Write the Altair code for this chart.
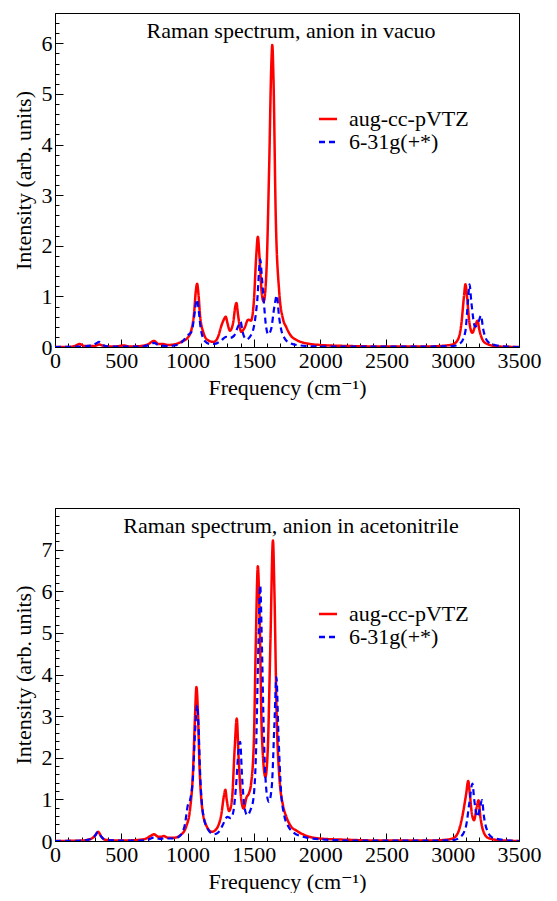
import altair as alt
import pandas as pd

FONT = "Liberation Serif, Times New Roman, Times, DejaVu Serif, serif"
SERIES = ["aug-cc-pVTZ", "6-31g(+*)"]
COLORS = ["#ff0000", "#0000ff"]
DASHES = [[1, 0], [6, 4]]

X_MAJOR = [0, 500, 1000, 1500, 2000, 2500, 3000, 3500]
X_MINOR = list(range(0, 3501, 100))

# ---------- Panel 1: anion in vacuo ----------
vac_red_f = [0, 100, 150, 187, 220, 300, 333, 370, 450, 520, 560, 650, 700, 747, 780, 810, 850,
             900, 950, 1000, 1030, 1050, 1062, 1072, 1082, 1095, 1120, 1150, 1197, 1230, 1255,
             1275, 1288, 1300, 1320, 1345, 1360, 1369, 1380, 1405, 1430, 1457, 1478, 1500, 1518,
             1530, 1542, 1560, 1574, 1595, 1615, 1632, 1639, 1648, 1665, 1691, 1720, 1743, 1780,
             1821, 1900, 2000, 2200, 2500, 2800, 2950, 3000, 3040, 3065, 3085, 3096, 3108, 3125,
             3148, 3170, 3187, 3200, 3230, 3270, 3350, 3500]
vac_red_i = [0.0, 0.0, 0.02, 0.06, 0.02, 0.02, 0.05, 0.02, 0.01, 0.03, 0.01, 0.02, 0.05, 0.12,
             0.06, 0.06, 0.04, 0.05, 0.1, 0.18, 0.35, 0.7, 1.1, 1.25, 1.05, 0.6, 0.28, 0.14, 0.1,
             0.2, 0.42, 0.55, 0.6, 0.48, 0.32, 0.5, 0.8, 0.87, 0.65, 0.3, 0.38, 0.54, 0.52, 0.9,
             1.8, 2.18, 1.8, 1.05, 0.9, 1.5, 3.5, 5.6, 5.97, 5.3, 2.6, 1.1, 0.55, 0.4, 0.22,
             0.14, 0.07, 0.04, 0.02, 0.01, 0.01, 0.03, 0.05, 0.15, 0.45, 1.0, 1.24, 1.0, 0.5,
             0.28, 0.42, 0.52, 0.35, 0.12, 0.05, 0.01, 0.0]
vac_blue_f = [0, 200, 280, 310, 333, 355, 400, 500, 650, 720, 747, 780, 850, 900, 950, 985, 1010,
              1030, 1050, 1062, 1072, 1085, 1100, 1130, 1170, 1200, 1250, 1290, 1320, 1350, 1380,
              1400, 1415, 1444, 1470, 1500, 1525, 1548, 1560, 1575, 1590, 1608, 1630, 1655, 1673,
              1690, 1710, 1730, 1770, 1850, 2000, 2800, 3000, 3060, 3095, 3115, 3127, 3140, 3169,
              3195, 3213, 3230, 3260, 3300, 3400, 3500]
vac_blue_i = [0.0, 0.01, 0.03, 0.07, 0.1, 0.05, 0.01, 0.01, 0.01, 0.05, 0.08, 0.04, 0.02, 0.03,
              0.08, 0.18, 0.25, 0.3, 0.6, 0.85, 0.94, 0.7, 0.35, 0.12, 0.06, 0.06, 0.12, 0.2, 0.18,
              0.22, 0.4, 0.5, 0.3, 0.15, 0.2, 0.4, 0.9, 1.73, 1.4, 0.9, 0.45, 0.25, 0.35, 0.8, 1.02,
              0.6, 0.3, 0.18, 0.08, 0.03, 0.01, 0.01, 0.02, 0.08, 0.3, 0.9, 1.24, 0.9, 0.4, 0.5,
              0.62, 0.35, 0.12, 0.05, 0.01, 0.0]
vac_y_major = [0, 1, 2, 3, 4, 5, 6]
vac_y_max = 6.6

# ---------- Panel 2: anion in acetonitrile ----------
acn_red_f = [0, 200, 270, 300, 325, 350, 380, 500, 600, 680, 720, 747, 780, 800, 820, 850, 900,
             950, 990, 1020, 1040, 1055, 1067, 1078, 1090, 1110, 1140, 1184, 1220, 1255, 1275,
             1285, 1295, 1314, 1335, 1355, 1371, 1385, 1405, 1423, 1445, 1462, 1480, 1500, 1515,
             1530, 1542, 1560, 1587, 1605, 1625, 1644, 1655, 1672, 1691, 1720, 1743, 1780, 1821,
             1900, 2000, 2200, 2500, 2800, 2950, 3000, 3040, 3070, 3100, 3117, 3130, 3145, 3161,
             3180, 3195, 3208, 3235, 3270, 3350, 3500]
acn_red_i = [0.0, 0.01, 0.05, 0.12, 0.22, 0.1, 0.03, 0.01, 0.02, 0.05, 0.12, 0.16, 0.1, 0.1,
             0.12, 0.08, 0.08, 0.15, 0.35, 0.8, 1.6, 2.9, 3.7, 3.1, 1.8, 0.8, 0.38, 0.22, 0.3,
             0.65, 1.1, 1.23, 1.0, 0.72, 1.0, 2.2, 2.94, 2.0, 1.0, 0.78, 1.05, 1.14, 1.4, 2.4,
             4.8, 6.6, 5.6, 2.6, 1.54, 2.2, 4.8, 7.22, 6.0, 3.0, 1.6, 0.85, 0.6, 0.35, 0.25,
             0.12, 0.06, 0.03, 0.01, 0.01, 0.03, 0.06, 0.2, 0.55, 1.1, 1.44, 1.1, 0.65, 0.5,
             0.8, 0.98, 0.6, 0.2, 0.07, 0.02, 0.0]
acn_blue_f = [0, 200, 270, 300, 325, 350, 380, 500, 650, 700, 747, 790, 820, 900, 950, 980, 1002,
              1020, 1040, 1058, 1072, 1082, 1095, 1115, 1150, 1197, 1230, 1260, 1300, 1325, 1345,
              1365, 1385, 1397, 1410, 1430, 1450, 1475, 1496, 1515, 1535, 1548, 1560, 1575, 1595,
              1613, 1635, 1655, 1670, 1685, 1705, 1730, 1760, 1800, 1850, 1900, 2000, 2300, 2800,
              3000, 3060, 3100, 3125, 3149, 3162, 3187, 3205, 3221, 3235, 3260, 3300, 3400, 3500]
acn_blue_i = [0.0, 0.01, 0.05, 0.12, 0.22, 0.1, 0.03, 0.01, 0.01, 0.03, 0.08, 0.05, 0.06, 0.06,
              0.15, 0.4, 0.86, 1.0, 1.5, 2.7, 3.26, 2.8, 1.6, 0.7, 0.3, 0.16, 0.2, 0.35, 0.58,
              0.55, 0.7, 1.3, 2.2, 2.38, 1.6, 0.8, 0.62, 0.75, 1.0, 2.0, 4.8, 6.14, 4.8, 2.6, 1.2,
              0.94, 1.3, 2.8, 3.94, 2.6, 1.2, 0.6, 0.35, 0.2, 0.12, 0.08, 0.04, 0.01, 0.01, 0.02,
              0.1, 0.35, 0.9, 1.38, 1.0, 0.58, 0.8, 0.98, 0.6, 0.25, 0.08, 0.02, 0.0]
acn_y_major = [0, 1, 2, 3, 4, 5, 6, 7]
acn_y_max = 8.0

PLOT_W = 464
FS = 22


def panel(title, red_f, red_i, blue_f, blue_i, y_major, y_max, height):
    red = pd.DataFrame({"freq": red_f, "intensity": red_i, "series": SERIES[0]})
    blue = pd.DataFrame({"freq": blue_f, "intensity": blue_i, "series": SERIES[1]})
    y_minor = [round(i * 0.2, 1) for i in range(int(round(y_max / 0.2)) + 1)]

    xs = alt.Scale(domain=[0, 3500], nice=False, zero=False)
    ys = alt.Scale(domain=[0, y_max], nice=False)
    legend = alt.Legend(
        title=None, orient="none", legendX=262, legendY=95, symbolType="stroke",
        symbolSize=324, symbolStrokeWidth=2.4, labelFont=FONT, labelFontSize=FS,
        labelColor="black", labelOffset=10, rowPadding=1, padding=0,
    )
    color = alt.Color("series:N", scale=alt.Scale(domain=SERIES, range=COLORS), legend=legend)
    dash = alt.StrokeDash("series:N", scale=alt.Scale(domain=SERIES, range=DASHES), legend=legend)

    main_x = alt.Axis(orient="bottom", title="Frequency (cm\u207b\u00b9)", values=X_MAJOR,
                      ticks=False, tickSize=0, labelPadding=3, titlePadding=6,
                      labelFlush=False, grid=False, format="d")
    main_y = alt.Axis(orient="left", title="Intensity (arb. units)", values=y_major,
                      ticks=False, tickSize=0, labelPadding=3, titlePadding=6,
                      labelFlush=False, grid=False, format="d")

    def tick_axis(orient, vals, size):
        return alt.Axis(orient=orient, values=vals, tickSize=size, offset=-size, labels=False,
                        domain=False, grid=False, title=None, tickColor="black", tickWidth=1)

    red_line = alt.Chart(red).mark_line(strokeWidth=2.5, interpolate="monotone", clip=True).encode(
        x=alt.X("freq:Q", scale=xs, axis=main_x),
        y=alt.Y("intensity:Q", scale=ys, axis=main_y),
        color=color, strokeDash=dash,
    )
    blue_line = alt.Chart(blue).mark_line(strokeWidth=2.2, interpolate="monotone", clip=True).encode(
        x=alt.X("freq:Q", scale=xs, axis=tick_axis("bottom", X_MAJOR, 8)),
        y=alt.Y("intensity:Q", scale=ys, axis=tick_axis("left", y_major, 8)),
        color=color, strokeDash=dash,
    )
    minor = alt.Chart(red).mark_line(opacity=0, clip=True).encode(
        x=alt.X("freq:Q", scale=xs, axis=tick_axis("bottom", X_MINOR, 4)),
        y=alt.Y("intensity:Q", scale=ys, axis=tick_axis("left", y_minor, 4)),
    )
    title_text = alt.Chart(pd.DataFrame({"t": [title]})).mark_text(
        font=FONT, fontSize=FS, color="black", baseline="alphabetic", align="center"
    ).encode(text="t:N", x=alt.value(PLOT_W / 2 + 4), y=alt.value(25))

    return alt.layer(red_line, blue_line, minor, title_text).resolve_axis(
        x="independent", y="independent"
    ).properties(width=PLOT_W, height=height)


top = panel("Raman spectrum, anion in vacuo", vac_red_f, vac_red_i, vac_blue_f, vac_blue_i,
            vac_y_major, vac_y_max, 334)
bottom = panel("Raman spectrum, anion in acetonitrile", acn_red_f, acn_red_i, acn_blue_f,
               acn_blue_i, acn_y_major, acn_y_max, 333)

chart = alt.vconcat(top, bottom, spacing=108).resolve_scale(
    color="independent", strokeDash="independent"
).properties(
    padding={"left": 3, "top": 4, "right": 0, "bottom": 0}
).configure_view(stroke="black", strokeWidth=1).configure_axis(
    labelFont=FONT, titleFont=FONT, labelFontSize=FS, titleFontSize=FS,
    labelColor="black", titleColor="black", domainColor="black", domainWidth=1,
    titleFontWeight="normal",
)

chart.save("out.html", embed_options={"renderer": "svg", "actions": False})
